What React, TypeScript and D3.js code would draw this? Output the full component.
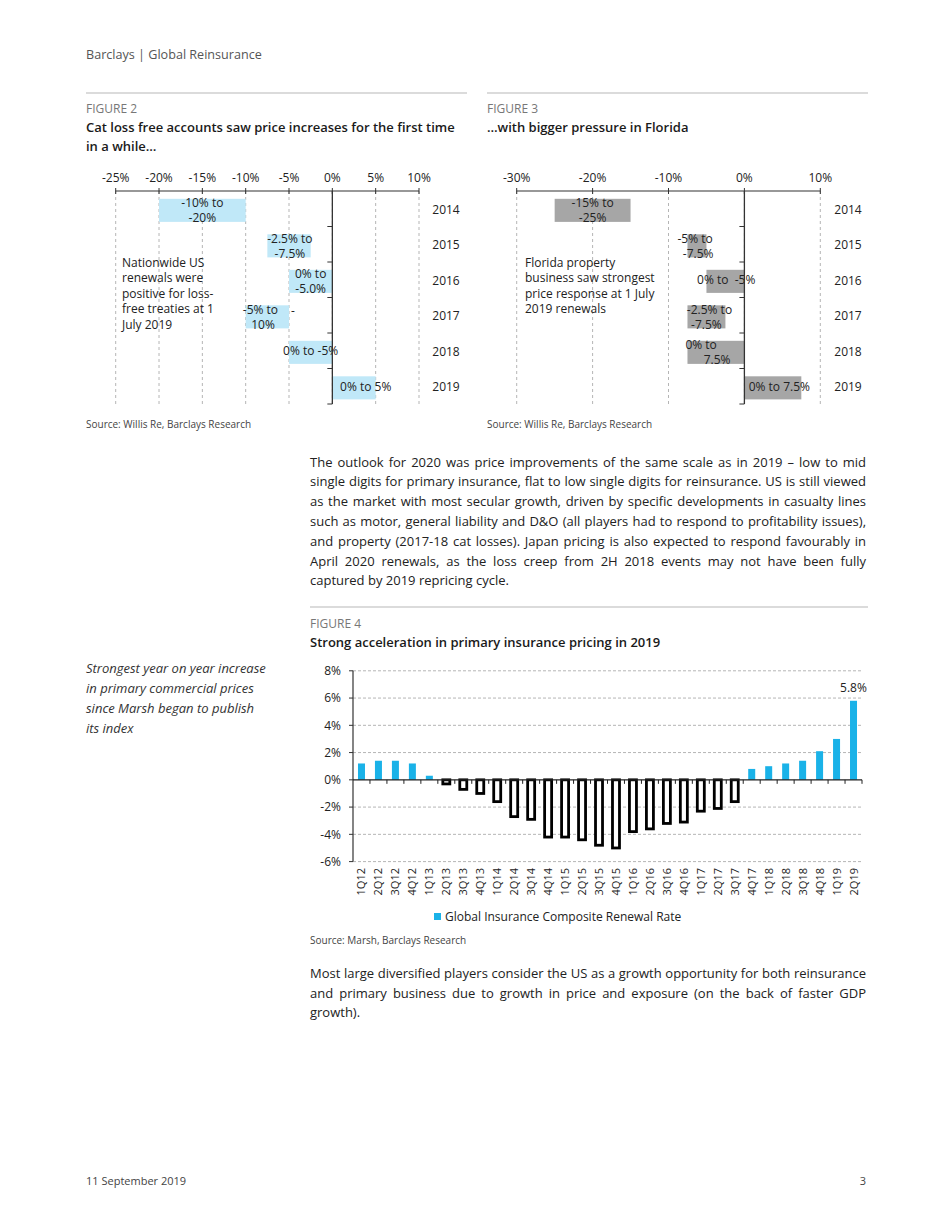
import React from 'react';
import * as d3 from 'd3';

const FONT = "'Open Sans', 'Noto Sans', sans-serif";
const TXT = '#222';

// ---------- Figure 2 data ----------
const fig2Years = ['2014', '2015', '2016', '2017', '2018', '2019'];
const fig2Low = [-20, -7.5, -5, -10, -5, 0];
const fig2High = [-10, -2.5, 0, -5, 0, 5];
const fig2Labels = [['-10% to', '-20%'], ['-2.5% to', '-7.5%'], ['0% to', '-5.0%'], ['-5% to', '10%'], ['0% to -5%'], ['0% to 5%']];
const fig2LabelAt = [[-15, -15], [-4.9, -4.9], [-2.5, -2.5], [-8.3, -8.0], [-2.5], [3.85]];
const fig2Ticks = [-25, -20, -15, -10, -5, 0, 5, 10];
const fig2Note = ['Nationwide US', 'renewals were', 'positive for loss-', 'free treaties at 1', 'July 2019'];

// ---------- Figure 3 data ----------
const fig3Years = ['2014', '2015', '2016', '2017', '2018', '2019'];
const fig3Low = [-25, -7.5, -5, -7.5, -7.5, 0];
const fig3High = [-15, -5, 0, -2.5, 0, 7.5];
const fig3Labels = [['-15% to', '-25%'], ['-5% to', '-7.5%'], ['0% to  -5%'], ['-2.5% to', '-7.5%'], ['0% to', '7.5%'], ['0% to 7.5%']];
const fig3LabelAt = [[-20, -20], [-6.5, -6.1], [-2.4], [-4.6, -5.0], [-5.7, -3.6], [4.6]];
const fig3Ticks = [-30, -20, -10, 0, 10];
const fig3Note = ['Florida property', 'business saw strongest', 'price response at 1 July', '2019 renewals'];

// ---------- Figure 4 data ----------
const quarters = ['1Q12', '2Q12', '3Q12', '4Q12', '1Q13', '2Q13', '3Q13', '4Q13', '1Q14', '2Q14', '3Q14', '4Q14', '1Q15', '2Q15', '3Q15', '4Q15', '1Q16', '2Q16', '3Q16', '4Q16', '1Q17', '2Q17', '3Q17', '4Q17', '1Q18', '2Q18', '3Q18', '4Q18', '1Q19', '2Q19'];
const renewalRate = [1.2, 1.4, 1.4, 1.2, 0.3, -0.3, -0.7, -1.0, -1.6, -2.7, -2.9, -4.2, -4.2, -4.4, -4.8, -5.0, -3.8, -3.6, -3.2, -3.1, -2.3, -2.1, -1.6, 0.8, 1.0, 1.2, 1.4, 2.1, 3.0, 5.8];
const fig4Ticks = [-6, -4, -2, 0, 2, 4, 6, 8];

// ---------- Text ----------
const para1 = [
  'The outlook for 2020 was price improvements of the same scale as in 2019 – low to mid',
  'single digits for primary insurance, flat to low single digits for reinsurance. US is still viewed',
  'as the market with most secular growth, driven by specific developments in casualty lines',
  'such as motor, general liability and D&O (all players had to respond to profitability issues),',
  'and property (2017-18 cat losses). Japan pricing is also expected to respond favourably in',
  'April 2020 renewals, as the loss creep from 2H 2018 events may not have been fully',
  'captured by 2019 repricing cycle.',
];
const para2 = [
  'Most large diversified players consider the US as a growth opportunity for both reinsurance',
  'and primary business due to growth in price and exposure (on the back of faster GDP',
  'growth).',
];
const sideNote = ['Strongest year on year increase', 'in primary commercial prices', 'since Marsh began to publish', 'its index'];

let _ctx: CanvasRenderingContext2D | null = null;
function measure(s: string, font: string) {
  if (!_ctx) _ctx = document.createElement('canvas').getContext('2d');
  _ctx!.font = font;
  return _ctx!.measureText(s).width;
}

function Paragraph({ lines, x, y0, lh, width, size }: any) {
  const spec = `${size}px 'Open Sans'`;
  return (
    <g fontSize={size} fill={TXT}>
      {lines.map((line: string, li: number) => {
        const y = y0 + li * lh;
        if (li === lines.length - 1) return <text key={li} x={x} y={y}>{line}</text>;
        const words = line.split(' ');
        const ws = words.map((w) => measure(w, spec));
        const total = d3.sum(ws);
        const gap = (width - total) / (words.length - 1);
        let cx = x;
        return (
          <text key={li} y={y}>
            {words.map((w, i) => {
              const el = <tspan key={i} x={cx}>{w}</tspan>;
              cx += ws[i] + gap;
              return el;
            })}
          </text>
        );
      })}
    </g>
  );
}

function RangeChart({ years, low, high, labels, labelAt, ticks, x0, x1, color, yearX, note, noteX }: any) {
  const x = d3.scaleLinear().domain([ticks[0], ticks[ticks.length - 1]]).range([x0, x1]);
  const y = d3.scaleBand<string>().domain(years).range([191, 404]);
  const bw = y.bandwidth();
  return (
    <g fontSize={12} fill={TXT}>
      {ticks.map((t: number) => (
        <g key={t}>
          <line x1={x(t)} x2={x(t)} y1={191} y2={404} stroke="#b5b5b5" strokeDasharray="3,3" />
          <line x1={x(t)} x2={x(t)} y1={188} y2={194} stroke="#333" />
          <text x={x(t)} y={181.5} textAnchor="middle">{`${t}%`}</text>
        </g>
      ))}
      <line x1={x0} x2={x1} y1={191} y2={191} stroke="#333" strokeWidth={1.2} />
      {years.map((yr: string, i: number) => {
        const yb = y(yr)!;
        const c = yb + bw / 2;
        const ls: string[] = labels[i];
        return (
          <g key={yr}>
            <rect x={x(low[i])} width={x(high[i]) - x(low[i])} y={yb + bw * 0.22} height={bw * 0.65} fill={color} />
            {ls.length === 2 ? (
              <>
                <text x={x(labelAt[i][0])} y={c - 1.3} textAnchor="middle">{ls[0]}</text>
                <text x={x(labelAt[i][1])} y={c + 13.7} textAnchor="middle">{ls[1]}</text>
              </>
            ) : (
              <text x={x(labelAt[i][0])} y={c + 4.3} textAnchor="middle" style={{ whiteSpace: 'pre' }}>{ls[0]}</text>
            )}
            <text x={yearX} y={c + 4.8} textAnchor="middle">{yr}</text>
            <line x1={x(0) - 5} x2={x(0)} y1={yb + bw} y2={yb + bw} stroke="#333" />
          </g>
        );
      })}
      <line x1={x(0)} x2={x(0)} y1={191} y2={404} stroke="#333" strokeWidth={1.3} />
      {note.map((s: string, i: number) => (
        <text key={i} x={noteX} y={266.5 + i * 15.6}>{s}</text>
      ))}
    </g>
  );
}

function BarChart() {
  const x = d3.scaleBand<string>().domain(quarters).range([353, 862]);
  const y = d3.scaleLinear().domain([-6, 8]).range([861.6, 670.8]);
  const bwid = 7;
  const blue = '#1ab2e8';
  const last = quarters.length - 1;
  return (
    <g>
      {fig4Ticks.map((t) => (
        <g key={t}>
          {t !== 0 && <line x1={353} x2={862} y1={y(t)} y2={y(t)} stroke="#b5b5b5" strokeDasharray="3,2" />}
          <line x1={349} x2={353} y1={y(t)} y2={y(t)} stroke="#333" />
          <text x={341} y={y(t) + 4.3} textAnchor="end" fontSize={12} fill={TXT}>{`${t}%`}</text>
        </g>
      ))}
      <line x1={353} x2={353} y1={y(8)} y2={y(-6)} stroke="#333" strokeWidth={1.2} />
      {quarters.map((q, i) => {
        const v = renewalRate[i];
        const cx = x(q)! + x.bandwidth() / 2;
        return v >= 0 ? (
          <rect key={q} x={cx - bwid / 2} width={bwid} y={y(v)} height={y(0) - y(v)} fill={blue} />
        ) : (
          <rect key={q} x={cx - bwid / 2} width={bwid} y={y(0)} height={y(v) - y(0)} fill="#fff" stroke="#000" strokeWidth={2.8} />
        );
      })}
      <line x1={353} x2={862} y1={y(0)} y2={y(0)} stroke="#222" strokeWidth={1.3} />
      {quarters.map((q, i) => (
        <line key={'t' + i} x1={x(q)! + x.bandwidth()} x2={x(q)! + x.bandwidth()} y1={y(0)} y2={y(0) + 4} stroke="#222" />
      ))}
      {quarters.map((q) => {
        const cx = x(q)! + x.bandwidth() / 2;
        return (
          <text key={'l' + q} transform={`translate(${cx + 4},868) rotate(-90)`} textAnchor="end" fontSize={11} fill={TXT}>{q}</text>
        );
      })}
      <text x={x(quarters[last])! + x.bandwidth() / 2} y={y(renewalRate[last]) - 9} textAnchor="middle" fontSize={12} fill={TXT}>{`${renewalRate[last]}%`}</text>
      <rect x={434} y={913} width={7} height={7} fill={blue} />
      <text x={445} y={921} fontSize={12} fill={TXT}>Global Insurance Composite Renewal Rate</text>
    </g>
  );
}

export default function App() {
  return (
    <svg width={950} height={1230} style={{ position: 'absolute', left: 0, top: 0, background: '#fff' }} fontFamily={FONT}>
      <rect width={950} height={1230} fill="#fff" />
      <text x={86} y={58.5} fontSize={12.6} fill="#555">Barclays | Global Reinsurance</text>

      {/* Figure 2 */}
      <line x1={86} x2={467} y1={93} y2={93} stroke="#cfcfcf" strokeWidth={1.5} />
      <text x={86} y={112.5} fontSize={12} fill="#777">FIGURE 2</text>
      <text x={86} y={132} fontSize={13} fontWeight={600} fill="#1a1a1a">Cat loss free accounts saw price increases for the first time</text>
      <text x={86} y={150.5} fontSize={13} fontWeight={600} fill="#1a1a1a">in a while…</text>
      <RangeChart years={fig2Years} low={fig2Low} high={fig2High} labels={fig2Labels} labelAt={fig2LabelAt} ticks={fig2Ticks}
        x0={115.7} x1={419} color="#c0e8f8" yearX={446} note={fig2Note} noteX={122} />
      <text x={293} y={315} fontSize={12} fill={TXT} textAnchor="middle">-</text>
      <text x={86} y={427.5} fontSize={10} fill="#444">Source: Willis Re, Barclays Research</text>

      {/* Figure 3 */}
      <line x1={487} x2={868} y1={93} y2={93} stroke="#cfcfcf" strokeWidth={1.5} />
      <text x={487} y={112.5} fontSize={12} fill="#777">FIGURE 3</text>
      <text x={487} y={132} fontSize={13} fontWeight={600} fill="#1a1a1a">…with bigger pressure in Florida</text>
      <RangeChart years={fig3Years} low={fig3Low} high={fig3High} labels={fig3Labels} labelAt={fig3LabelAt} ticks={fig3Ticks}
        x0={516.7} x1={820.3} color="#a6a6a6" yearX={848} note={fig3Note} noteX={525} />
      <text x={487} y={427.5} fontSize={10} fill="#444">Source: Willis Re, Barclays Research</text>

      <Paragraph lines={para1} x={310} y0={466.5} lh={19.8} width={556} size={13} />

      {/* Figure 4 */}
      <line x1={310} x2={868} y1={607} y2={607} stroke="#cfcfcf" strokeWidth={1.5} />
      <text x={310} y={628} fontSize={12} fill="#777">FIGURE 4</text>
      <text x={310} y={647} fontSize={13} fontWeight={600} fill="#1a1a1a">Strong acceleration in primary insurance pricing in 2019</text>
      <g fontSize={13} fontStyle="italic" fill="#333">
        {sideNote.map((s, i) => (
          <text key={i} x={86} y={672.5 + i * 20.2}>{s}</text>
        ))}
      </g>
      <BarChart />
      <text x={310} y={943.5} fontSize={10} fill="#444">Source: Marsh, Barclays Research</text>

      <Paragraph lines={para2} x={310} y0={978} lh={19.7} width={556} size={13} />

      <text x={86} y={1185} fontSize={11} fill="#444">11 September 2019</text>
      <text x={866} y={1185} fontSize={11} fill="#444" textAnchor="end">3</text>
    </svg>
  );
}
